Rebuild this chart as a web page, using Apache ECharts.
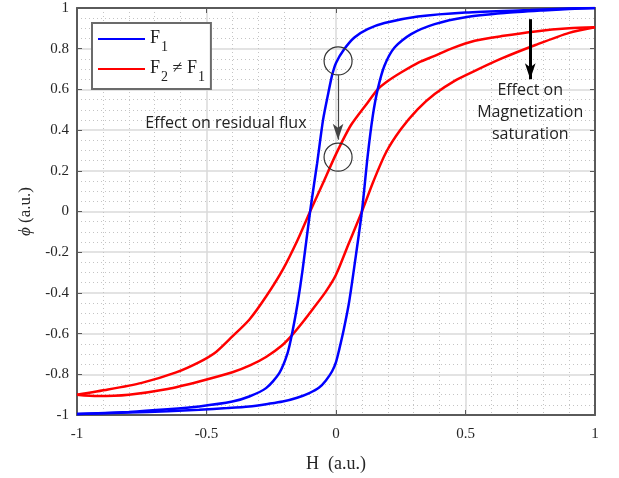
<!DOCTYPE html>
<html style="height: 100%">
<head>
    <meta charset="utf-8">
</head>
<body style="height: 100%; margin: 0; background: #fff">
<div id="main" style="width: 619px; height: 478px"></div>

<script type="text/javascript" src="https://cdn.jsdelivr.net/npm/echarts@6/dist/echarts.min.js"></script>

<script type="text/javascript">
    // F1 (blue) loop: rising branch and falling branch
    var blueRiseH = [-1, -0.8, -0.65, -0.528, -0.42, -0.335, -0.26, -0.206, -0.15, -0.103, -0.065, -0.039, -0.015, 0, 0.013, 0.03, 0.05, 0.073, 0.1, 0.122, 0.142, 0.161, 0.187, 0.226, 0.29, 0.381, 0.5, 0.65, 0.8, 0.9, 1];
    var blueRisePhi = [-0.995, -0.988, -0.982, -0.974, -0.966, -0.958, -0.945, -0.934, -0.915, -0.892, -0.865, -0.83, -0.785, -0.74, -0.675, -0.58, -0.45, -0.25, 0, 0.27, 0.47, 0.6, 0.716, 0.806, 0.872, 0.921, 0.955, 0.975, 0.988, 0.995, 1];
    var blueFallH = [1, 0.9, 0.75, 0.5, 0.316, 0.187, 0.122, 0.071, 0.032, 0, -0.015, -0.03, -0.05, -0.073, -0.1, -0.129, -0.148, -0.168, -0.187, -0.219, -0.27, -0.335, -0.4, -0.528, -0.65, -0.8, -1];
    var blueFallPhi = [1, 0.997, 0.99, 0.978, 0.958, 0.926, 0.896, 0.855, 0.798, 0.73, 0.67, 0.58, 0.45, 0.236, 0, -0.287, -0.45, -0.59, -0.696, -0.794, -0.868, -0.909, -0.934, -0.958, -0.972, -0.985, -0.995];

    // F2 (red) loop
    var redRiseH = [-1, -0.92, -0.8, -0.65, -0.528, -0.4, -0.33, -0.27, -0.21, -0.168, -0.12, -0.09, -0.04, 0, 0.05, 0.1, 0.145, 0.193, 0.251, 0.316, 0.381, 0.458, 0.536, 0.64, 0.77, 0.9, 1];
    var redRisePhi = [-0.9, -0.907, -0.9, -0.872, -0.835, -0.79, -0.755, -0.715, -0.66, -0.605, -0.53, -0.48, -0.395, -0.311, -0.155, 0, 0.15, 0.29, 0.405, 0.503, 0.577, 0.642, 0.691, 0.752, 0.818, 0.878, 0.905];
    var redFallH = [1, 0.9, 0.77, 0.64, 0.536, 0.45, 0.381, 0.32, 0.251, 0.2, 0.161, 0.122, 0.058, 0, -0.05, -0.1, -0.15, -0.206, -0.27, -0.335, -0.4, -0.463, -0.528, -0.62, -0.75, -0.88, -1];
    var redFallPhi = [0.905, 0.9, 0.885, 0.862, 0.839, 0.803, 0.765, 0.733, 0.683, 0.641, 0.6, 0.535, 0.425, 0.282, 0.14, 0, -0.145, -0.287, -0.418, -0.532, -0.614, -0.69, -0.74, -0.792, -0.842, -0.875, -0.9];

    var seriesNames = ['F1', 'F2 ≠ F1'];

    function zip(a, b) {
        return a.map(function (v, i) { return [v, b[i]]; });
    }

    var serif = 'Liberation Serif';
    var chart = echarts.init(document.getElementById('main'));

    var axisCommon = {
        type: 'value',
        min: -1,
        max: 1,
        axisLine: { show: true, onZero: false, lineStyle: { color: '#5a5a5a', width: 2 } },
        axisTick: { show: true, inside: true, length: 5, lineStyle: { color: '#5a5a5a', width: 1 } },
        splitLine: { show: true, lineStyle: { color: '#dadada', width: 1.5 } },
        minorSplitLine: { show: true, lineStyle: { color: '#c4c4c4', width: 1, type: [1, 3] } }
    };
    var frameAxis = {
        type: 'value', min: -1, max: 1,
        axisLine: { show: true, onZero: false, lineStyle: { color: '#5a5a5a', width: 2 } },
        axisTick: { show: true, inside: true, length: 5, lineStyle: { color: '#5a5a5a' } },
        axisLabel: { show: false }, splitLine: { show: false }
    };

    function loopSeries(name, color, data, z) {
        return {
            name: name,
            type: 'line',
            data: data,
            showSymbol: false,
            symbol: 'none',
            smooth: 0.25,
            color: color,
            lineStyle: { color: color, width: 2.5 },
            z: z
        };
    }

    var ring = { color: 'rgba(0,0,0,0)', borderColor: '#333', borderWidth: 1.2 };
    var blueRise = loopSeries(seriesNames[0], '#0000ff', zip(blueRiseH, blueRisePhi), 3);
    blueRise.markPoint = {
        silent: true,
        data: [
            { coord: [0.008, 0.74], symbol: 'circle', symbolSize: 28, itemStyle: ring, label: { show: false } },
            { coord: [0.008, 0.267], symbol: 'circle', symbolSize: 28, itemStyle: ring, label: { show: false } },
            { coord: [-0.425, 0.432], symbol: 'circle', symbolSize: 1,
              itemStyle: { color: 'rgba(0,0,0,0)' },
              label: { show: true, position: 'inside', formatter: 'Effect on residual flux',
                       fontFamily: 'Open Sans', fontSize: 16, color: '#222' } },
            { coord: [0.75, 0.487], symbol: 'circle', symbolSize: 1,
              itemStyle: { color: 'rgba(0,0,0,0)' },
              label: { show: true, position: 'inside', formatter: 'Effect on\nMagnetization\nsaturation',
                       fontFamily: 'Open Sans', fontSize: 16, lineHeight: 22, align: 'center', color: '#222' } }
        ]
    };
    blueRise.markLine = {
        silent: true,
        symbol: ['none', 'arrow'],
        label: { show: false },
        data: [
            [
                { coord: [0.008, 0.67], symbolSize: 9, lineStyle: { color: '#444', width: 1.2, type: 'solid' } },
                { coord: [0.008, 0.353] }
            ],
            [
                { coord: [0.75, 0.945], symbolSize: 12, lineStyle: { color: '#000', width: 3, type: 'solid' } },
                { coord: [0.75, 0.65] }
            ]
        ]
    };

    var option = {
        animation: false,
        backgroundColor: '#fff',
        grid: { left: 77, right: 24, top: 8, bottom: 63 },
        legend: {
            orient: 'vertical',
            left: 92,
            top: 23,
            padding: [6, 6, 5, 6],
            itemGap: 5,
            itemWidth: 47,
            itemHeight: 2,
            icon: 'rect',
            backgroundColor: '#fff',
            borderColor: '#6b6b6b',
            borderWidth: 2,
            borderRadius: 0,
            data: seriesNames,
            formatter: function (name) {
                return name === 'F1' ? '{b|F}{s|1}' : '{b|F}{s|2}{b| ≠ F}{s|1}';
            },
            textStyle: {
                fontFamily: serif,
                color: '#222',
                rich: {
                    b: { fontFamily: serif, fontSize: 18, color: '#222', lineHeight: 20, verticalAlign: 'top' },
                    s: { fontFamily: serif, fontSize: 14, color: '#222', lineHeight: 14, padding: [11, 0, 0, 1], verticalAlign: 'top' }
                }
            }
        },
        xAxis: [
            Object.assign({}, axisCommon, {
                position: 'bottom',
                interval: 0.5,
                minorTick: { show: false, splitNumber: 5 },
                axisLabel: { color: '#262626', fontFamily: serif, fontSize: 15, margin: 12 },
                name: 'H  (a.u.)',
                nameLocation: 'middle',
                nameGap: 40,
                nameTextStyle: { fontFamily: serif, fontSize: 18, color: '#262626' }
            }),
            Object.assign({}, frameAxis, { position: 'top', interval: 0.5 })
        ],
        yAxis: [
            Object.assign({}, axisCommon, {
                position: 'left',
                interval: 0.2,
                minorTick: { show: false, splitNumber: 4 },
                axisLabel: { color: '#262626', fontFamily: serif, fontSize: 15, margin: 8 },
                name: '{i|ϕ} (a.u.)',
                nameLocation: 'middle',
                nameGap: 42,
                nameRotate: 90,
                nameTextStyle: {
                    fontFamily: serif, fontSize: 17, color: '#262626',
                    rich: { i: { fontFamily: serif, fontStyle: 'italic', fontSize: 17, color: '#262626' } }
                }
            }),
            Object.assign({}, frameAxis, { position: 'right', interval: 0.2 })
        ],
        series: [
            blueRise,
            loopSeries(seriesNames[0], '#0000ff', zip(blueFallH, blueFallPhi), 3),
            loopSeries(seriesNames[1], '#ff0000', zip(redRiseH, redRisePhi), 2),
            loopSeries(seriesNames[1], '#ff0000', zip(redFallH, redFallPhi), 2)
        ]
    };

    chart.setOption(option);
</script>
</body>
</html>
